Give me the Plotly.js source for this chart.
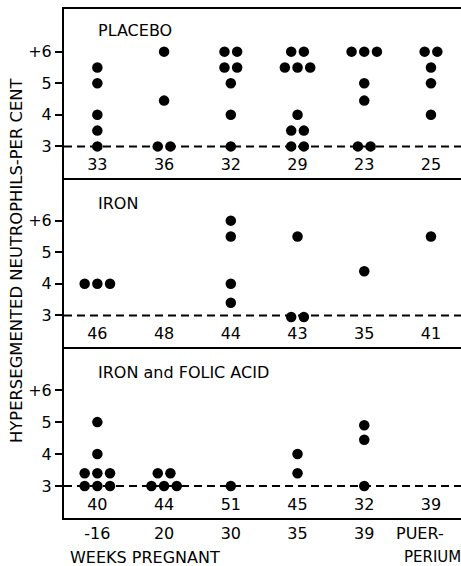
<!DOCTYPE html>
<html><head><meta charset="utf-8">
<script src="https://cdn.plot.ly/plotly-3.0.1.min.js"></script>
<style>html,body{margin:0;padding:0;background:#fff;overflow:hidden}</style>
</head><body><div id="chart" style="width:461px;height:566px"></div>
<script>
// ---- data ----
const weekLabels = ["-16", "20", "30", "35", "39"];
const panelNames = ["PLACEBO", "IRON", "IRON and FOLIC ACID"];
const yTickVals = [3, 4, 5, 6];
const yTickText = ["3", "4", "5", "+6"];

const placeboN = [33, 36, 32, 29, 23, 25];
const ironN = [46, 48, 44, 43, 35, 41];
const folicN = [40, 44, 51, 45, 32, 39];

// one entry per dot: column (time point index) and value (per cent)
const placeboCol = [0,0,0,0,0, 1,1,1,1, 2,2,2,2,2,2,2, 3,3,3,3,3,3,3,3,3,3, 4,4,4,4,4,4,4, 5,5,5,5,5];
const placeboVal = [5.5,5,4,3.5,3, 6,4.45,3,3, 6,6,5.5,5.5,5,4,3, 6,6,5.5,5.5,5.5,4,3.5,3.5,3,3, 6,6,6,5,4.45,3,3, 6,6,5.5,5,4];

const ironCol = [0,0,0, 2,2,2,2, 3,3,3, 4, 5];
const ironVal = [4,4,4, 6,5.5,4,3.4, 5.5,2.95,2.95, 4.4, 5.5];

const folicCol = [0,0,0,0,0,0,0,0, 1,1,1,1,1, 2, 3,3, 4,4,4];
const folicVal = [5,4,3.4,3.4,3.4,3,3,3, 3.4,3.4,3,3,3, 3, 4,3.4, 4.9,4.45,3];

// ---- build ----
const FONT = "DejaVu Sans";
const SPREAD = 0.19; // horizontal spacing between dots sharing a value

function spreadDots(cols, vals) {
  const groups = {};
  cols.forEach((c, i) => {
    const k = c + "|" + vals[i];
    (groups[k] = groups[k] || []).push(i);
  });
  const xs = new Array(cols.length);
  Object.values(groups).forEach(idx => {
    const n = idx.length;
    idx.forEach((i, k) => { xs[i] = cols[i] + (k - (n - 1) / 2) * SPREAD; });
  });
  return xs;
}

const panels = [
  {cols: placeboCol, vals: placeboVal, n: placeboN},
  {cols: ironCol, vals: ironVal, n: ironN},
  {cols: folicCol, vals: folicVal, n: folicN}
];
const colIdx = [0, 1, 2, 3, 4, 5];
const traces = [];
panels.forEach((p, i) => {
  const sfx = i === 0 ? "" : String(i + 1);
  traces.push({
    type: "scatter", mode: "markers",
    x: spreadDots(p.cols, p.vals), y: p.vals,
    xaxis: "x" + sfx, yaxis: "y" + sfx,
    marker: {color: "#000", size: 10.5},
    hoverinfo: "skip", showlegend: false
  });
  traces.push({
    type: "scatter", mode: "text",
    x: colIdx, y: colIdx.map(() => 2.38),
    text: p.n.map(String),
    textfont: {family: FONT, size: 16, color: "#000"},
    xaxis: "x" + sfx, yaxis: "y" + sfx,
    hoverinfo: "skip", showlegend: false
  });
});

const domains = [[0.668, 1], [0.336, 0.668], [0, 0.336]];
const labelY = [6.68, 6.53, 6.54];
const layout = {
  width: 461, height: 566,
  margin: {l: 64, r: 0, t: 9, b: 48},
  paper_bgcolor: "#fff", plot_bgcolor: "#fff",
  font: {family: FONT, size: 16, color: "#000"},
  showlegend: false,
  shapes: [], annotations: []
};
panels.forEach((p, i) => {
  const sfx = i === 0 ? "" : String(i + 1);
  const last = i === 2;
  layout["xaxis" + sfx] = {
    domain: [0, 1], range: [-0.5, 5.45], anchor: "y" + sfx,
    showline: true, mirror: i === 0, linecolor: "#000", linewidth: 2,
    showgrid: false, zeroline: false, ticks: "",
    showticklabels: last,
    tickvals: [0, 1, 2, 3, 4], ticktext: weekLabels,
    tickfont: {family: FONT, size: 16, color: "#000"},
    ticklabelstandoff: 0,
    fixedrange: true
  };
  layout["yaxis" + sfx] = {
    domain: domains[i], range: [2, 7.35], anchor: "x" + sfx,
    showline: true, mirror: false, linecolor: "#000", linewidth: 2,
    showgrid: false, zeroline: false,
    ticks: "outside", ticklen: 7, tickwidth: 2, tickcolor: "#000",
    tickvals: yTickVals, ticktext: yTickText,
    tickfont: {family: FONT, size: 16, color: "#000"},
    fixedrange: true
  };
  layout.shapes.push({
    type: "line", xref: "x" + sfx + " domain", x0: 0, x1: 1,
    yref: "y" + sfx, y0: 3, y1: 3,
    line: {color: "#000", width: 2, dash: "8px,5px"}
  });
  layout.annotations.push({
    text: panelNames[i], xref: "x" + sfx, yref: "y" + sfx,
    x: -0.02, y: labelY[i], xanchor: "left", yanchor: "middle",
    showarrow: false, font: {family: FONT, size: 16, color: "#000"}
  });
});
layout.annotations.push(
  {text: "HYPERSEGMENTED NEUTROPHILS-PER CENT", textangle: -90,
   xref: "paper", yref: "paper", x: -0.118, y: 0.507,
   xanchor: "center", yanchor: "middle", showarrow: false,
   font: {family: FONT, size: 16.4, color: "#000"}},
  {text: "WEEKS PREGNANT", xref: "paper", yref: "paper", x: 0.01, y: -0.077,
   xanchor: "left", yanchor: "middle", showarrow: false,
   font: {family: FONT, size: 16, color: "#000"}},
  {text: "PUER-", xref: "x3", yref: "paper", x: 4.44, y: -0.03,
   xanchor: "left", yanchor: "middle", showarrow: false,
   font: {family: FONT, size: 16, color: "#000"}},
  {text: "PERIUM", xref: "x3", yref: "paper", x: 4.56, y: -0.077,
   xanchor: "left", yanchor: "middle", showarrow: false,
   font: {family: FONT, size: 15, color: "#000"}}
);

Plotly.newPlot("chart", traces, layout, {staticPlot: true, displayModeBar: false});
</script>
</body></html>
